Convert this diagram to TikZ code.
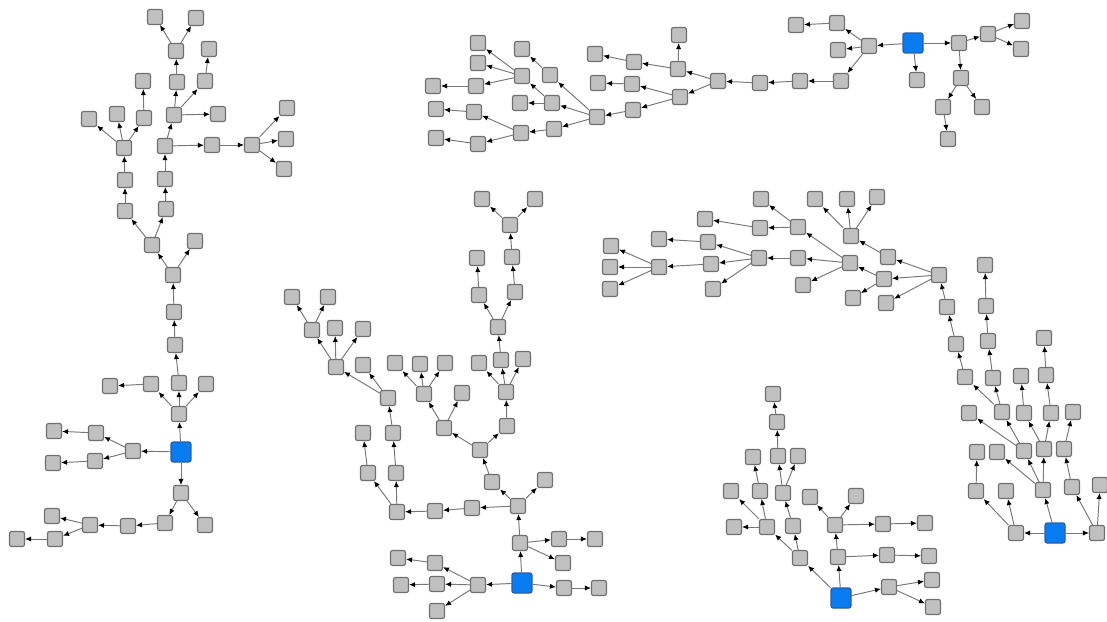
\documentclass[tikz,border=0pt]{standalone}
\usepackage{tikz}
\usetikzlibrary{arrows.meta}
\definecolor{boxgray}{HTML}{C0C0C0}
\definecolor{boxline}{HTML}{707070}
\definecolor{rootblue}{HTML}{0A7CF2}
\definecolor{rootline}{HTML}{2B5D9E}
\definecolor{linkgray}{HTML}{777777}

\begin{document}
\begin{tikzpicture}[x=0.02cm, y=-0.02cm,
    box/.style={draw=boxline, fill=boxgray, line width=0.65pt, rounded corners=1.2pt,
      minimum size=0.3cm, inner sep=0pt},
    root/.style={box, draw=rootline, fill=rootblue, minimum size=0.4cm},
    link/.style={draw=linkgray, line width=0.55pt, -{Latex[black, length=3.4pt, width=3pt]}}]
    \useasboundingbox (0,0) rectangle (1107,622);

    % roots
    \node[root] (ra) at (181,452) {};
    \node[root] (rb) at (913,43) {};
    \node[root] (rc) at (522,583) {};
    \node[root] (rd) at (1055,533) {};
    \node[root] (re) at (841,598) {};

    % left tree
    \foreach \n/\x/\y in {a1/155/17, a2/196/18, a3/176/51, a4/209/49, a5/143/81, a6/177/82,
        a7/205/81, a8/89/119, a9/117/114, a10/144/118, a11/174/115, a12/218/114,
        a13/124/148, a14/165/146, a15/212/145, a16/252/145, a17/287/108, a18/286/139,
        a19/284/169, a20/125/180, a21/165/179, a22/125/211, a23/166/209, a24/152/245,
        a25/195/241, a26/173/275, a27/174/312, a28/175/345, a29/110/386, a30/151/384,
        a31/179/383, a32/206/384, a33/179/414, a34/54/431, a35/96/433, a36/133/451,
        a37/53/463, a38/95/461, a40/181/493, a41/165/523, a42/205/525, a43/128/526,
        a44/90/525, a45/52/516, a46/55/539, a47/17/539}
      \node[box] (\n) at (\x,\y) {};
    \foreach \a/\b in {a3/a1, a3/a2, a6/a3, a7/a4, a10/a5, a11/a6, a11/a7, a11/a12,
        a13/a8, a13/a9, a13/a10, a14/a11, a14/a15, a15/a16, a16/a17, a16/a18, a16/a19,
        a20/a13, a21/a14, a22/a20, a23/a21, a24/a22, a24/a23, a26/a24, a26/a25,
        a27/a26, a28/a27, a31/a28, a30/a29, a33/a30, a33/a31, a33/a32, ra/a33,
        ra/a36, ra/a40, a36/a35, a36/a38, a35/a34, a38/a37, a40/a41, a40/a42,
        a41/a43, a43/a44, a44/a45, a44/a46, a46/a47}
      \draw[link] (\a) -- (\b);

    % top tree
    \foreach \n/\x/\y in {b1/869/46, b2/837/23, b3/838/50, b4/841/81, b5/796/25, b6/800/81,
        b7/760/83, b8/718/81, b9/917/80, b10/959/43, b11/988/34, b12/961/78,
        b13/1022/21, b14/1021/49, b15/943/107, b16/982/107, b17/948/139, b18/678/69,
        b19/680/97, b20/679/35, b21/634/62, b22/595/54, b23/632/84, b24/633/110,
        b25/598/83, b26/597/117, b27/550/75, b28/552/103, b30/522/49, b31/520/103,
        b32/522/76, b33/478/43, b34/478/63, b35/476/86, b36/433/86, b37/554/129,
        b38/521/133, b39/474/112, b40/478/144, b41/436/109, b42/436/138}
      \node[box] (\n) at (\x,\y) {};
    \foreach \a/\b in {rb/b1, rb/b9, rb/b10, b1/b2, b1/b3, b1/b4, b2/b5, b4/b6, b6/b7,
        b7/b8, b10/b11, b10/b12, b11/b13, b11/b14, b12/b15, b12/b16, b15/b17, b8/b18,
        b8/b19, b18/b20, b18/b21, b21/b22, b19/b23, b19/b24, b23/b25, b24/b26,
        b26/b27, b26/b28, b26/b37, b27/b30, b28/b31, b28/b32, b32/b33, b32/b34,
        b32/b35, b35/b36, b37/b38, b38/b39, b38/b40, b39/b41, b40/b42}
      \draw[link] (\a) -- (\b);

    % middle tree
    \foreach \n/\x/\y in {c1/482/199, c2/535/199, c3/510/225, c4/477/258, c5/512/257,
        c6/479/295, c7/515/292, c8/498/327, c9/479/363, c10/501/360, c11/523/359,
        c12/506/392, c13/292/297, c14/328/297, c15/312/330, c16/335/328, c17/363/329,
        c18/336/367, c19/363/365, c20/388/398, c21/395/363, c22/420/364, c23/445/363,
        c24/424/394, c25/462/393, c27/393/433, c28/363/433, c29/368/473, c30/396/473,
        c31/397/512, c32/435/511, c33/472/508, c34/518/506, c35/492/482, c36/545/480,
        c37/480/450, c38/444/428, c39/507/426, c40/520/543, c41/559/539, c42/563/563,
        c43/595/539, c44/564/588, c45/599/588, c46/478/585, c47/435/563, c48/437/584,
        c49/437/611, c50/398/558, c51/401/585}
      \node[box] (\n) at (\x,\y) {};
    \foreach \a/\b in {c3/c1, c3/c2, c5/c3, c6/c4, c7/c5, c8/c6, c8/c7, c10/c8, c12/c9,
        c12/c10, c12/c11, c15/c13, c15/c14, c18/c15, c18/c16, c18/c17, c20/c18,
        c20/c19, c24/c21, c24/c22, c24/c23, c38/c24, c38/c25, c39/c12, c37/c38,
        c37/c39, c35/c37, c34/c35, c34/c36, c34/c33, c33/c32, c32/c31, c31/c29,
        c31/c30, c29/c28, c30/c27, c27/c20, c40/c34, c40/c41, c40/c42, c41/c43,
        rc/c40, rc/c44, rc/c46, c44/c45, c46/c47, c46/c48, c46/c49, c47/c50, c48/c51}
      \draw[link] (\a) -- (\b);

    % right tree
    \foreach \n/\x/\y in {d1/939/275, d2/888/257, d3/884/279, d4/886/303, d5/851/236,
        d6/815/199, d7/847/199, d8/877/197, d9/853/298, d10/850/263, d11/798/227,
        d12/798/258, d13/803/285, d14/761/199, d15/760/228, d16/705/219, d17/759/258,
        d18/708/242, d19/711/264, d20/713/289, d22/659/239, d23/659/267, d24/611/246,
        d25/610/267, d26/610/289, d27/947/307, d28/956/344, d29/965/377, d30/985/265,
        d31/986/306, d32/988/341, d33/993/378, d34/1002/412, d35/969/413, d36/1024/413,
        d37/1044/338, d38/1046/375, d39/1051/413, d40/1073/412, d41/1021/376,
        d42/1016/533, d43/1043/490, d44/1097/533, d45/976/491, d46/1006/491,
        d47/977/452, d48/997/452, d49/1024/451, d50/1044/449, d51/1072/487,
        d52/1100/485, d53/1064/449}
      \node[box] (\n) at (\x,\y) {};
    \foreach \a/\b in {rd/d42, rd/d43, rd/d44, d42/d45, d42/d46, d45/d47, d43/d48,
        d43/d49, d43/d50, d49/d34, d49/d35, d50/d36, d50/d39, d44/d51, d44/d52,
        d51/d53, d53/d40, d34/d29, d34/d33, d36/d41, d39/d38, d38/d37, d33/d32,
        d32/d31, d31/d30, d29/d28, d28/d27, d27/d1, d1/d2, d1/d3, d1/d4, d2/d5,
        d5/d6, d5/d7, d5/d8, d3/d9, d3/d10, d10/d11, d10/d12, d10/d13, d11/d14,
        d11/d15, d15/d16, d12/d17, d17/d18, d17/d19, d17/d20, d18/d22, d19/d23,
        d23/d24, d23/d25, d23/d26}
      \draw[link] (\a) -- (\b);

    % bottom tree
    \foreach \n/\x/\y in {e1/800/558, e2/767/527, e3/793/526, e4/734/527, e5/731/491,
        e6/760/491, e7/753/457, e8/783/493, e9/778/456, e10/798/456, e11/777/422,
        e12/773/394, e13/838/557, e14/835/525, e15/887/555, e16/810/497, e17/856/496,
        e18/883/524, e19/925/523, e20/929/556, e21/889/587, e22/932/580, e23/933/607}
      \node[box] (\n) at (\x,\y) {};
    \foreach \a/\b in {re/e1, re/e13, re/e21, e1/e2, e1/e3, e2/e4, e2/e5, e2/e6, e6/e7,
        e3/e8, e8/e9, e8/e10, e9/e11, e11/e12, e13/e14, e13/e15, e14/e16, e14/e17,
        e14/e18, e18/e19, e15/e20, e21/e22, e21/e23}
      \draw[link] (\a) -- (\b);
  \end{tikzpicture}
\end{document}
